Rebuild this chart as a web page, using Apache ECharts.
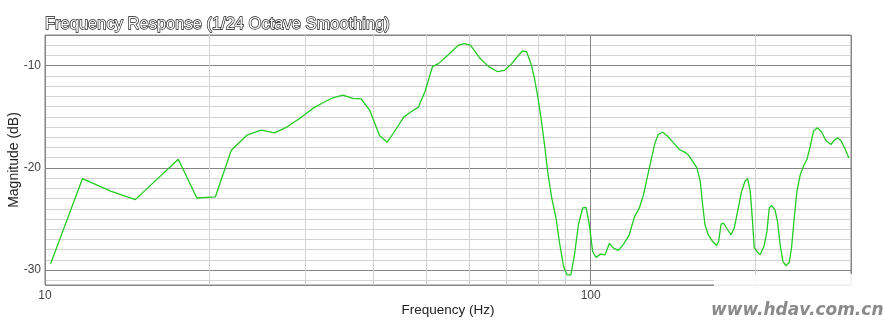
<!DOCTYPE html>
<html>
<head>
<meta charset="utf-8">
<script src="https://cdn.jsdelivr.net/npm/echarts@6/dist/echarts.min.js"></script>
<style>html,body{margin:0;padding:0;background:#fff}#c{width:883px;height:324px}</style>
</head>
<body>
<div id="c"></div>
<script>
var freqHz = [10.24, 11.71, 13.23, 14.64, 17.55, 18.98, 20.52, 21.95, 23.44, 24.91, 26.35, 27.79, 29.28, 30.96, 32.31, 33.69, 35.14, 36.65, 37.97, 39.4, 41.02, 42.4, 43.83, 45.45, 46.88, 48.35, 49.74, 51.3, 52.6, 54.7, 57.24, 58.7, 60.2, 62.55, 64.95, 67.55, 69.5, 71.5, 73.3, 75.0, 76.3, 77.8, 78.85, 79.96, 81.1, 82.3, 83.4, 84.85, 86.4, 87.6, 89.2, 90.5, 92.0, 93.4, 94.95, 96.7, 98.1, 99.45, 100.85, 102.3, 104.2, 106.3, 108.2, 110.2, 112.4, 114.9, 117.7, 120.2, 122.8, 125.0, 128.1, 131.2, 133.0, 135.5, 138.4, 141.9, 145.4, 148.4, 151.0, 153.8, 156.6, 158.8, 160.4, 162.0, 164.3, 167.3, 170.2, 171.6, 173.4, 175.2, 177.8, 180.8, 183.3, 185.9, 189.1, 191.8, 193.9, 196.1, 198.0, 199.4, 201.7, 204.5, 208.0, 210.4, 212.5, 214.5, 217.6, 220.0, 222.5, 225.1, 228.0, 231.2, 233.4, 236.1, 238.8, 242.2, 246.3, 249.1, 252.6, 256.1, 260.5, 264.9, 269.8, 275.6, 279.4, 283.4, 287.4, 292.4, 297.3];
var magnitudeDb = [-29.38, -21.05, -22.29, -23.10, -19.15, -22.94, -22.84, -18.27, -16.80, -16.31, -16.57, -15.98, -15.16, -14.18, -13.63, -13.14, -12.88, -13.20, -13.24, -14.4, -16.83, -17.48, -16.34, -15.03, -14.51, -14.05, -12.48, -10.10, -9.80, -8.99, -8.00, -7.84, -8.00, -9.22, -10.07, -10.59, -10.46, -9.87, -9.15, -8.56, -8.63, -9.87, -11.18, -12.97, -15.1, -17.71, -20.33, -22.94, -24.9, -27.19, -29.64, -30.46, -30.46, -28.5, -25.56, -23.92, -23.86, -25.56, -28.17, -28.76, -28.43, -28.5, -27.39, -27.84, -28.07, -27.45, -26.54, -24.84, -23.92, -22.61, -20.0, -17.55, -16.73, -16.5, -16.9, -17.55, -18.2, -18.43, -18.72, -19.35, -20.0, -21.31, -23.6, -25.56, -26.54, -27.19, -27.58, -27.19, -25.49, -25.39, -25.95, -26.54, -25.88, -24.25, -22.29, -21.31, -21.05, -22.29, -25.23, -27.78, -28.17, -28.5, -27.58, -26.21, -23.92, -23.66, -24.08, -25.23, -27.52, -29.15, -29.58, -29.22, -27.84, -24.9, -22.29, -20.65, -19.67, -19.18, -17.88, -16.4, -16.08, -16.47, -17.32, -17.71, -17.32, -17.06, -17.32, -18.1, -19.02];
var xMinorGrid = [20, 30, 40, 50, 60, 70, 80, 90, 200];
var xTickLabels = [10, 100];
var yTickLabels = [-30, -20, -10];
var titleText = 'Frequency Response (1/24 Octave Smoothing)';
var xName = 'Frequency (Hz)';
var yName = 'Magnitude (dB)';
var watermark = 'www.hdav.com.cn';

var chart = echarts.init(document.getElementById('c'), null, {renderer: 'canvas'});
var pts = freqHz.map(function (f, i) { return [f, magnitudeDb[i]]; });
var font = '"Liberation Sans", Arial, Helvetica, sans-serif';
chart.setOption({
  animation: false,
  backgroundColor: '#fff',
  grid: {left: 45, top: 35, right: 32, bottom: 39, containLabel: false, outerBoundsMode: 'none',
    show: true, borderColor: '#858585', borderWidth: 1, backgroundColor: 'transparent'},
  title: {
    text: titleText, left: 45, top: 16, padding: 0,
    textStyle: {fontFamily: font, fontSize: 16.5, fontWeight: 'normal', color: '#fff', textBorderColor: '#111', textBorderWidth: 1.3}
  },
  xAxis: {
    type: 'log', logBase: 10, min: 10, max: 300,
    name: xName, nameLocation: 'middle', nameGap: 18, nameMoveOverlap: false,
    nameTextStyle: {fontFamily: font, fontSize: 13.5, color: '#222'},
    axisLine: {show: false}, axisTick: {show: false},
    axisLabel: {fontFamily: font, fontSize: 12, color: '#444', margin: 5, showMaxLabel: false,
      formatter: function (v) { return xTickLabels.indexOf(Math.round(v)) >= 0 ? String(Math.round(v)) : ''; }},
    splitLine: {show: true, lineStyle: {color: '#858585', width: 1}}
  },
  yAxis: {
    type: 'value', min: -31.45, max: -7, splitNumber: 3,
    name: yName, nameLocation: 'middle', nameGap: 24, nameMoveOverlap: false,
    nameTextStyle: {fontFamily: font, fontSize: 14, color: '#222'},
    axisLine: {show: false}, axisTick: {show: false},
    axisLabel: {fontFamily: font, fontSize: 12, color: '#444', margin: 4, showMinLabel: false, showMaxLabel: false,
      formatter: function (v) { return yTickLabels.indexOf(Math.round(v)) >= 0 && Math.abs(v - Math.round(v)) < 1e-6 ? String(Math.round(v)) : ''; }},
    splitLine: {show: true, lineStyle: {color: '#858585', width: 1}},
    minorTick: {show: false, splitNumber: 10},
    minorSplitLine: {show: true, lineStyle: {color: '#d2d2d2', width: 1}}
  },
  series: [{
    type: 'line', data: pts, showSymbol: false, smooth: false, z: 10,
    lineStyle: {color: '#22cc22', width: 1.3},
    markLine: {
      silent: true, symbol: 'none', animation: false,
      label: {show: false},
      lineStyle: {color: '#d2d2d2', type: 'solid', width: 1},
      data: xMinorGrid.map(function (v) { return {xAxis: v}; })
    }
  }],
  graphic: [
    {type: 'rect', z: 100, shape: {x: 714, y: 274, width: 139, height: 16}, style: {fill: 'rgba(255,255,255,0.85)'}},
    {type: 'text', z: 101, left: 711, top: 302, style: {text: watermark, fill: '#8a8a8a', font: 'italic bold 17px "DejaVu Sans", sans-serif'}}
  ]
});
</script>
</body>
</html>
